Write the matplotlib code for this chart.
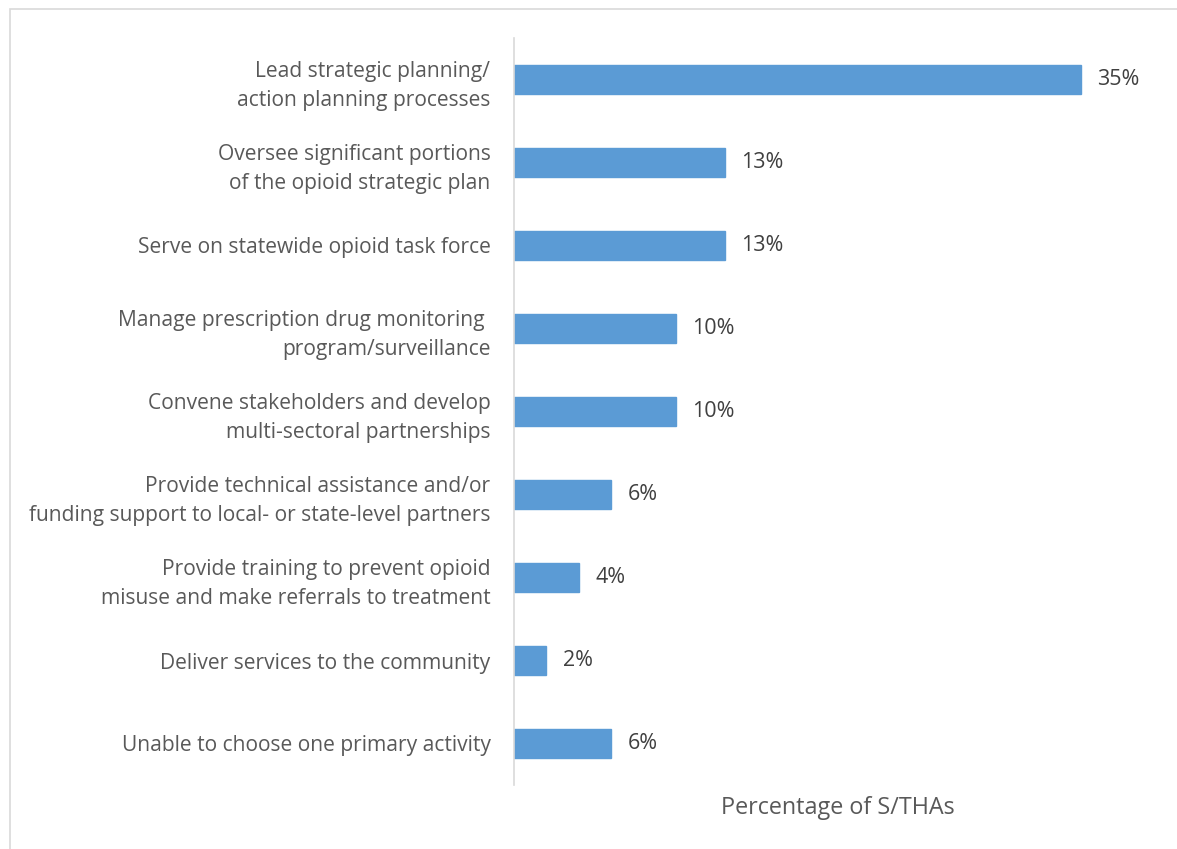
import matplotlib
matplotlib.use("Agg")
import matplotlib.pyplot as plt
from matplotlib.patches import Rectangle

plt.rcParams["font.family"] = ["Open Sans", "DejaVu Sans"]

categories = [
    "Lead strategic planning/\naction planning processes",
    "Oversee significant portions\nof the opioid strategic plan",
    "Serve on statewide opioid task force",
    "Manage prescription drug monitoring \nprogram/surveillance",
    "Convene stakeholders and develop\nmulti-sectoral partnerships",
    "Provide technical assistance and/or\nfunding support to local- or state-level partners",
    "Provide training to prevent opioid\nmisuse and make referrals to treatment",
    "Deliver services to the community",
    "Unable to choose one primary activity",
]
values = [35, 13, 13, 10, 10, 6, 4, 2, 6]
value_labels = ["35%", "13%", "13%", "10%", "10%", "6%", "4%", "2%", "6%"]

W, H = 1177, 849
fig = plt.figure(figsize=(W / 100, H / 100), dpi=100)
# thin grey frame around the chart area
fig.patches.append(Rectangle((10 / W, -0.01), 1.2, 1 - 9 / H + 0.01, transform=fig.transFigure,
                             fill=False, edgecolor="#d9d9d9", lw=1.2))

ax = fig.add_axes([514 / W, (H - 785) / H, (1162 - 514) / W, 747 / H])
y = list(range(len(values)))
ax.barh(y, values, height=0.36, color="#5b9bd5", edgecolor="#5b9bd5")
ax.set_ylim(len(values) - 0.5, -0.5)
ax.set_xlim(0, 40)

for yi, v, lab in zip(y, values, value_labels):
    ax.text(v + 1.0, yi, lab, va="center", ha="left", fontsize=15.5, color="#404040")

ax.set_yticks(y)
ax.set_yticklabels(categories, fontsize=15.1, color="#595959", linespacing=1.5)
ax.tick_params(axis="y", length=0, pad=17)
ax.set_xticks([])
for s in ("top", "right", "bottom"):
    ax.spines[s].set_visible(False)
ax.spines["left"].set_color("#d9d9d9")
ax.spines["left"].set_linewidth(1.2)
ax.set_xlabel("Percentage of S/THAs", fontsize=16.8, color="#595959", labelpad=8)

fig.savefig("out.png", dpi=100)
